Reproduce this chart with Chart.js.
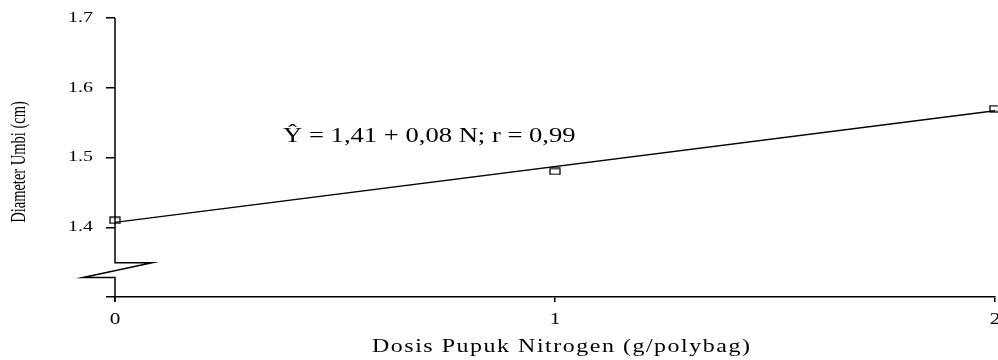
<!DOCTYPE html>
<html>
<head>
<meta charset="utf-8">
<script src="https://cdn.jsdelivr.net/npm/chart.js@4/dist/chart.umd.min.js"></script>
<style>
  html, body { margin: 0; padding: 0; background: #fff; }
  #wrap { width: 998px; height: 360px; position: relative; }
</style>
</head>
<body>
<div id="wrap"><canvas id="c" width="998" height="360"></canvas></div>
<script>
// ---- data ----
const doses = [0, 1, 2];                      // g/polybag
const diameters = [1.41, 1.48, 1.57];         // cm
const fitX = [0, 2];
const fitY = [1.407, 1.567];                  // regression line Ŷ = 1,41 + 0,08 N
const xTicks = [0, 1, 2];
const yTicks = [1.4, 1.5, 1.6, 1.7];
const xTitle = 'Dosis Pupuk Nitrogen (g/polybag)';
const yTitle = 'Diameter Umbi (cm)';
const eqText = 'Ŷ = 1,41 + 0,08 N; r = 0,99';
const eqPos = [0.382, 1.53];                  // data coords of equation label
const axisBreak = [1.349, 1.328];             // y values of the axis-break zigzag

const SERIF = '"Liberation Serif", "Times New Roman", serif';
const SX = 1.33;   // horizontal stretch seen in the reference

// hollow rectangle marker
function makeMarker() {
  const c = document.createElement('canvas');
  c.width = 12; c.height = 8;
  const g = c.getContext('2d');
  g.strokeStyle = '#000';
  g.lineWidth = 1.3;
  g.strokeRect(1, 1, 10, 6);
  return c;
}

function stretchedText(ctx, text, x, y, font, align, baseline, sx, spacing) {
  ctx.save();
  ctx.font = font;
  ctx.letterSpacing = (spacing || 0) + 'px';
  ctx.textAlign = align;
  ctx.textBaseline = baseline;
  ctx.fillStyle = '#000';
  ctx.translate(x, y);
  ctx.scale(sx, 1);
  ctx.fillText(text, 0, 0);
  ctx.restore();
}

const decor = {
  id: 'decor',
  afterDraw(chart) {
    const ctx = chart.ctx;
    const xs = chart.scales.x, ys = chart.scales.y;
    const ca = chart.chartArea;
    ctx.save();
    // y axis with break
    const x0 = xs.getPixelForValue(0);
    const b1 = ys.getPixelForValue(axisBreak[0]);
    const b2 = ys.getPixelForValue(axisBreak[1]);
    ctx.strokeStyle = '#000';
    ctx.lineWidth = 1.5;
    ctx.beginPath();
    ctx.moveTo(x0, ca.top);
    ctx.lineTo(x0, b1);
    ctx.lineTo(x0 + 37, b1);
    ctx.lineTo(x0 - 32, b2);
    ctx.lineTo(x0, b2);
    ctx.lineTo(x0, ca.bottom + 5);
    ctx.stroke();
    ctx.restore();

    // y tick labels
    yTicks.forEach(v => {
      stretchedText(ctx, v.toFixed(1), ca.left - 22, ys.getPixelForValue(v),
        '15px ' + SERIF, 'right', 'middle', SX, 0);
    });
    // x tick labels
    xTicks.forEach(v => {
      stretchedText(ctx, String(v), xs.getPixelForValue(v), ca.bottom + 15,
        '16px ' + SERIF, 'center', 'top', SX, 0);
    });

    // equation
    stretchedText(ctx, eqText, xs.getPixelForValue(eqPos[0]), ys.getPixelForValue(eqPos[1]),
      '20px ' + SERIF, 'left', 'middle', SX, 0);

    // x title (spaced)
    ctx.save();
    ctx.font = '18px ' + SERIF;
    const natW = ctx.measureText(xTitle).width * SX;
    ctx.restore();
    const targetW = 378;
    const sp = (targetW - natW) / SX / (xTitle.length - 1);
    stretchedText(ctx, xTitle, (ca.left + ca.right) / 2 + 6 - targetW / 2, 352,
      '18px ' + SERIF, 'left', 'alphabetic', SX, sp.toFixed(2));

    // y title (rotated, glyphs widened horizontally)
    ctx.save();
    ctx.font = '14.5px ' + SERIF;
    ctx.fillStyle = '#000';
    ctx.translate(25, 162);
    ctx.rotate(-Math.PI / 2);
    ctx.scale(1, 1.4);
    ctx.textAlign = 'center';
    ctx.textBaseline = 'alphabetic';
    ctx.fillText(yTitle, 0, 0);
    ctx.restore();
  }
};

new Chart(document.getElementById('c'), {
  type: 'scatter',
  data: {
    datasets: [
      {
        label: 'fit',
        data: fitX.map((x, i) => ({ x, y: fitY[i] })),
        showLine: true,
        borderColor: '#000',
        borderWidth: 1.3,
        pointRadius: 0,
        clip: false
      },
      {
        label: 'obs',
        data: doses.map((x, i) => ({ x, y: diameters[i] })),
        showLine: false,
        pointStyle: makeMarker(),
        clip: false
      }
    ]
  },
  plugins: [decor],
  options: {
    responsive: false,
    animation: false,
    devicePixelRatio: 1,
    layout: { autoPadding: false, padding: { top: 18, right: 3, left: 0, bottom: 0 } },
    plugins: { legend: { display: false }, tooltip: { enabled: false } },
    scales: {
      x: {
        type: 'linear', min: 0, max: 2,
        afterBuildTicks: s => { s.ticks = xTicks.map(v => ({ value: v })); },
        afterFit: s => { s.height = 63; s.paddingLeft = 0; s.paddingRight = 0; },
        ticks: { color: 'rgba(0,0,0,0)', font: { family: SERIF, size: 4 }, padding: 8 },
        grid: { drawOnChartArea: false, drawTicks: true, tickLength: 5, color: '#000', lineWidth: 1.5 },
        border: { display: true, color: '#000', width: 1.5 }
      },
      y: {
        type: 'linear', min: 1.3, max: 1.7,
        afterBuildTicks: s => { s.ticks = [1.3].concat(yTicks).map(v => ({ value: v })); },
        afterFit: s => { s.width = 115; s.paddingTop = 0; s.paddingBottom = 0; },
        ticks: { color: 'rgba(0,0,0,0)', font: { family: SERIF, size: 4 }, padding: 11 },
        grid: { drawOnChartArea: false, drawTicks: true, tickLength: 9, color: '#000', lineWidth: 1.5 },
        border: { display: false }
      }
    }
  }
});
</script>
</body>
</html>
